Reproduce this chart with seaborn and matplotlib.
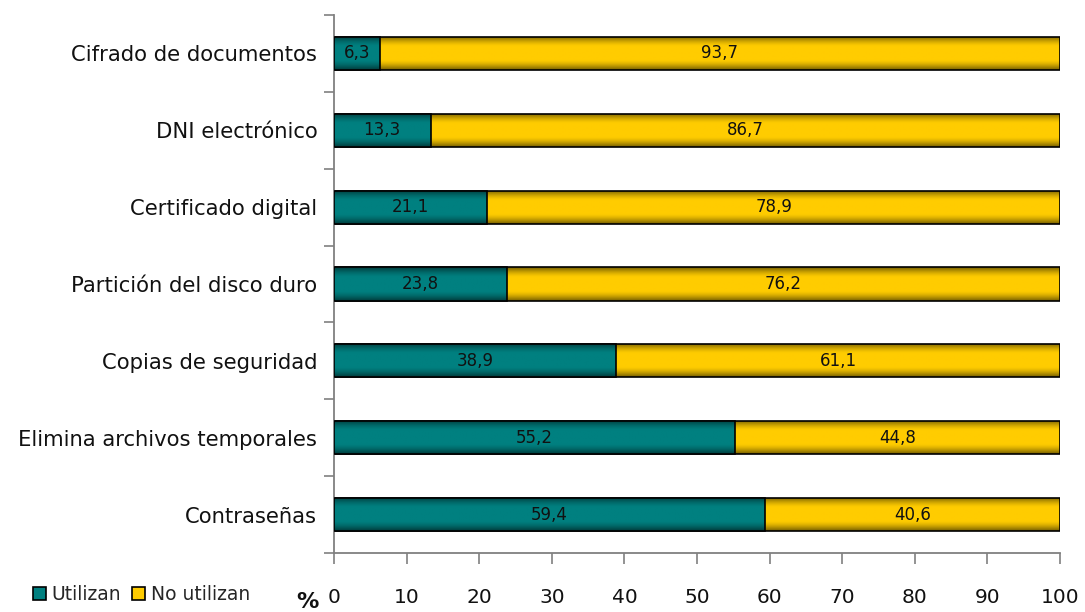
import numpy as np
import pandas as pd
import matplotlib
matplotlib.use("Agg")
import matplotlib.pyplot as plt
from matplotlib.patches import Patch
from matplotlib.ticker import FixedLocator
import seaborn as sns

categories = [
    "Cifrado de documentos",
    "DNI electrónico",
    "Certificado digital",
    "Partición del disco duro",
    "Copias de seguridad",
    "Elimina archivos temporales",
    "Contraseñas",
]
utilizan = [6.3, 13.3, 21.1, 23.8, 38.9, 55.2, 59.4]
no_utilizan = [93.7, 86.7, 78.9, 76.2, 61.1, 44.8, 40.6]
x_ticks = list(range(0, 101, 10))

TEAL = "#008080"
GOLD = "#FFCC00"

sns.set_theme(style="white")
plt.rcParams["font.family"] = ["DejaVu Sans"]

df = pd.DataFrame({
    "categoria": categories,
    "utilizan": utilizan,
    "total": [u + n for u, n in zip(utilizan, no_utilizan)],
})

fig = plt.figure(figsize=(10.85, 6.12), dpi=100)
ax = fig.add_axes([0.3078, 0.0964, 0.977 - 0.3078, 0.9755 - 0.0964])

# stacked bars: full length in gold, the "utilizan" share drawn over it in teal
sns.barplot(data=df, x="total", y="categoria", order=categories, color=GOLD,
            saturation=1, width=0.43, edgecolor="black", linewidth=1.2, ax=ax)
sns.barplot(data=df, x="utilizan", y="categoria", order=categories, color=TEAL,
            saturation=1, width=0.43, edgecolor="black", linewidth=1.2, ax=ax)

ax.set_xlim(0, 100)
ax.set_ylim(len(categories) - 0.5, -0.5)

# vertical shading on each bar (darker toward top and bottom edges)
t = np.linspace(0, 1, 96)
prof = 1 - 0.55 * np.clip(1 - np.minimum(t, 1 - t) / 0.3, 0, 1) ** 1.5
bars = list(ax.patches)
for k, patch in enumerate(bars):
    x0, y0 = patch.get_x(), patch.get_y()
    w, h = patch.get_width(), patch.get_height()
    base = np.array(matplotlib.colors.to_rgb(patch.get_facecolor()))
    img = np.repeat((prof[:, None] * base[None, :])[:, None, :], 2, axis=1)
    z = 2 if k < len(categories) else 3
    im = ax.imshow(img, extent=(x0, x0 + w, y0 + h, y0), aspect="auto",
                   interpolation="bilinear", origin="upper", zorder=z)
    im.set_clip_path(patch.get_path(), patch.get_transform())
    patch.set_facecolor("none")
    patch.set_zorder(z + 0.5)

ax.set_xlim(0, 100)
ax.set_ylim(len(categories) - 0.5, -0.5)

# value labels centred in each segment
for i, (u, n) in enumerate(zip(utilizan, no_utilizan)):
    ax.text(u / 2, i, f"{u:.1f}".replace(".", ","), ha="center", va="center",
            fontsize=12, color="#111111", zorder=6)
    ax.text(u + n / 2, i, f"{n:.1f}".replace(".", ","), ha="center", va="center",
            fontsize=12, color="#111111", zorder=6)

ax.set_xticks(x_ticks)
ax.set_xticklabels([str(v) for v in x_ticks], fontsize=14.5, color="#111111")
ax.set_xlabel("")
ax.set_ylabel("")
ax.set_yticks(range(len(categories)))
ax.set_yticklabels(categories, fontsize=15.2, color="#111111")
ax.yaxis.set_minor_locator(FixedLocator(np.arange(-0.5, len(categories), 1.0)))

for side in ("top", "right"):
    ax.spines[side].set_visible(False)
for side in ("left", "bottom"):
    ax.spines[side].set_color("#808080")
    ax.spines[side].set_linewidth(1.3)

ax.tick_params(axis="y", which="major", length=0, pad=12)
ax.tick_params(axis="y", which="minor", length=7, width=1.2, color="#808080",
               direction="out", left=True)
ax.tick_params(axis="x", which="major", length=8, width=1.2, color="#808080",
               direction="out", bottom=True, pad=17)

fig.text(0.283, 0.016, "%", fontsize=16, fontweight="bold", color="#111111",
         ha="center", va="center")

handles = [Patch(facecolor=TEAL, edgecolor="black", linewidth=1.2, label="Utilizan"),
           Patch(facecolor=GOLD, edgecolor="black", linewidth=1.2, label="No utilizan")]
fig.legend(handles=handles, loc="lower left", bbox_to_anchor=(0.018, -0.008),
           ncol=2, frameon=False, fontsize=13.5, handlelength=0.7,
           handleheight=0.7, handletextpad=0.3, columnspacing=0.6,
           borderaxespad=0.3)

fig.savefig("out.png", dpi=100, facecolor="white")
